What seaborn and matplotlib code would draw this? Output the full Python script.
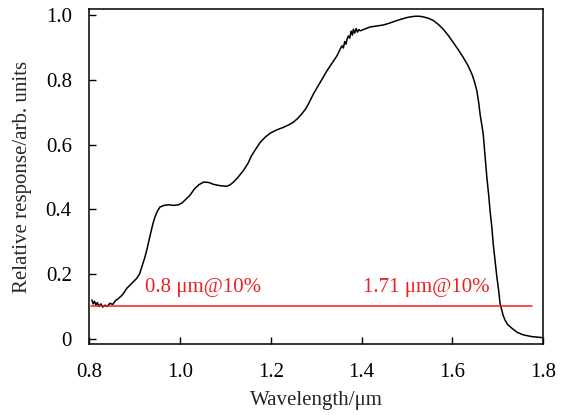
"""
Relative spectral response of the detector, 0.8-1.8 um.
Cut-on / cut-off wavelengths marked at the 10% level.
"""
import seaborn as sns
import pandas as pd
import matplotlib
matplotlib.use("Agg")
import matplotlib.pyplot as plt

# values
wavelength = [0.806, 0.809, 0.812, 0.815, 0.818, 0.822, 0.826, 0.830, 0.835, 0.840,
              0.846, 0.852, 0.858, 0.865, 0.872, 0.878, 0.883, 0.890, 0.897, 0.905,
              0.911, 0.916, 0.922, 0.927, 0.932, 0.937, 0.941, 0.945, 0.950, 0.956,
              0.965, 0.975, 0.986, 0.997, 1.005, 1.011, 1.022, 1.032, 1.042, 1.052,
              1.063, 1.074, 1.088, 1.103, 1.111, 1.118, 1.128, 1.140, 1.150, 1.158,
              1.168, 1.177, 1.188, 1.199, 1.213, 1.228, 1.240, 1.250, 1.259, 1.268,
              1.276, 1.283, 1.294, 1.309, 1.324, 1.335, 1.346, 1.352, 1.357, 1.360,
              1.363, 1.366, 1.368, 1.371, 1.374, 1.377, 1.380, 1.382, 1.385, 1.388,
              1.391, 1.394, 1.397, 1.408, 1.419, 1.434, 1.448, 1.460, 1.470, 1.485,
              1.500, 1.507, 1.518, 1.528, 1.536, 1.547, 1.558, 1.569, 1.580, 1.591,
              1.602, 1.613, 1.624, 1.634, 1.643, 1.649, 1.654, 1.658, 1.661, 1.665,
              1.668, 1.672, 1.676, 1.680, 1.683, 1.687, 1.690, 1.694, 1.698, 1.702,
              1.705, 1.709, 1.712, 1.716, 1.722, 1.731, 1.743, 1.757, 1.775, 1.797]
response = [0.120, 0.108, 0.116, 0.104, 0.112, 0.100, 0.108, 0.098, 0.104, 0.100,
            0.110, 0.106, 0.118, 0.125, 0.134, 0.145, 0.156, 0.166, 0.176, 0.187,
            0.200, 0.222, 0.248, 0.274, 0.305, 0.335, 0.358, 0.376, 0.393, 0.407,
            0.412, 0.414, 0.412, 0.414, 0.420, 0.428, 0.443, 0.463, 0.476, 0.484,
            0.483, 0.477, 0.473, 0.471, 0.476, 0.484, 0.499, 0.520, 0.542, 0.566,
            0.588, 0.607, 0.623, 0.635, 0.645, 0.653, 0.661, 0.669, 0.680, 0.694,
            0.708, 0.725, 0.756, 0.792, 0.828, 0.851, 0.874, 0.892, 0.905, 0.898,
            0.918, 0.910, 0.925, 0.935, 0.928, 0.950, 0.938, 0.956, 0.944, 0.958,
            0.947, 0.955, 0.951, 0.957, 0.963, 0.966, 0.969, 0.974, 0.979, 0.986,
            0.992, 0.994, 0.996, 0.996, 0.994, 0.990, 0.983, 0.971, 0.956, 0.937,
            0.915, 0.893, 0.869, 0.845, 0.818, 0.793, 0.766, 0.730, 0.695, 0.660,
            0.633, 0.565, 0.499, 0.445, 0.397, 0.345, 0.294, 0.243, 0.192, 0.150,
            0.110, 0.089, 0.072, 0.058, 0.044, 0.033, 0.020, 0.012, 0.007, 0.004]

level_x = [0.805, 1.775]
level_y = [0.1, 0.1]

labels = ["0.8 \u03bcm@10%", "1.71 \u03bcm@10%"]
label_x = [0.923, 1.404]
label_y = [0.145, 0.145]

xticks = [0.8, 1.0, 1.2, 1.4, 1.6, 1.8]
xtick_labels = ["0.8", "1.0", "1.2", "1.4", "1.6", "1.8"]
yticks = [0, 0.2, 0.4, 0.6, 0.8, 1.0]
ytick_labels = ["0", "0.2", "0.4", "0.6", "0.8", "1.0"]

sns.set_style("ticks")
plt.rcParams["font.family"] = ["Liberation Serif", "DejaVu Serif"]

dfResp = pd.DataFrame({"wavelength": wavelength, "response": response})
dfLevel = pd.DataFrame({"wavelength": level_x, "response": level_y})

fig = plt.figure(figsize=(5.64, 4.15), dpi=100)
ax = fig.add_axes([0.158, 0.171, 0.805, 0.807])

sns.lineplot(data=dfResp, x="wavelength", y="response", color="black",
             linewidth=1.1, ax=ax)
sns.lineplot(data=dfLevel, x="wavelength", y="response", color="#ee2020",
             linewidth=1.1, ax=ax)

for txt, tx, ty in zip(labels, label_x, label_y):
    ax.text(tx, ty, txt, color="#ee2020", fontsize=15, ha="left", va="baseline")

ax.set_xlim(0.8, 1.8)
ax.set_ylim(-0.016, 1.018)
ax.set_xticks(xticks)
ax.set_xticklabels(xtick_labels)
ax.set_yticks(yticks)
ax.set_yticklabels(ytick_labels)
ax.tick_params(direction="in", length=5, width=1, labelsize=15, colors="black")
ax.tick_params(axis="x", pad=14)
ax.tick_params(axis="y", pad=12.5)
for side in ["top", "right", "left", "bottom"]:
    ax.spines[side].set_visible(True)
    ax.spines[side].set_linewidth(1.1)
    ax.spines[side].set_color("black")

ax.set_xlabel("Wavelength/\u03bcm", fontsize=15, labelpad=6)
ax.set_ylabel("Relative response/arb. units", fontsize=15, labelpad=10)

fig.savefig("out.png", dpi=100)
